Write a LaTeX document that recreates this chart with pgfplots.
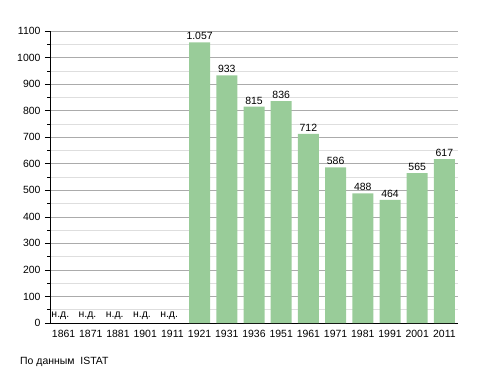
\documentclass[border=0pt]{standalone}
\usepackage{pgfplots}
\pgfplotsset{compat=1.18}
\usepackage{fontspec}
\setmainfont{Liberation Sans}
\definecolor{bargreen}{HTML}{99CC99}
\pgfplotstableread{
x y label
5 1057 1.057
6 933 933
7 815 815
8 836 836
9 712 712
10 586 586
11 488 488
12 464 464
13 565 565
14 617 617
}\popdata
\begin{document}
\begin{tikzpicture}
\useasboundingbox (-50bp,-50bp) rectangle (438bp,323bp);
\begin{axis}[
  scale only axis, width=408bp, height=292bp,
  xmin=-0.5, xmax=14.5, ymin=0, ymax=1100,
  axis x line*=bottom, axis y line*=left,
  axis line style={black, line width=0.8pt, -},
  xtick={0,...,14},
  xticklabels={1861,1871,1881,1901,1911,1921,1931,1936,1951,1961,1971,1981,1991,2001,2011},
  x tick style={draw=none},
  ytick={0,100,...,1100},
  minor ytick={50,150,...,1050},
  ymajorgrids, yminorgrids,
  major grid style={draw=black!33, line width=0.6pt},
  minor grid style={draw=black!13, line width=0.6pt},
  tick align=outside,
  major tick length=5bp, minor tick length=2.5bp,
  y tick style={black, line width=0.6pt},
  tick label style={font=\fontsize{10.5}{12}\selectfont},
  /pgf/number format/assume math mode=true,
  yticklabel style={/pgf/number format/set thousands separator={}, xshift=-1bp},
  xticklabel style={yshift=1bp},
  clip=false,
]
\addplot[ybar, bar width=21bp, fill=bargreen, draw=none,
  nodes near coords, point meta=explicit symbolic,
  every node near coord/.append style={font=\fontsize{10.5}{12}\selectfont, black, yshift=-1bp}]
  table[x=x, y=y, meta=label] {\popdata};
\node[anchor=south, font=\fontsize{10.5}{12}\selectfont, inner sep=0pt, yshift=3.5bp] at (axis cs:-0.12,0) {н.д.};
\node[anchor=south, font=\fontsize{10.5}{12}\selectfont, inner sep=0pt, yshift=3.5bp] at (axis cs:0.88,0) {н.д.};
\node[anchor=south, font=\fontsize{10.5}{12}\selectfont, inner sep=0pt, yshift=3.5bp] at (axis cs:1.88,0) {н.д.};
\node[anchor=south, font=\fontsize{10.5}{12}\selectfont, inner sep=0pt, yshift=3.5bp] at (axis cs:2.88,0) {н.д.};
\node[anchor=south, font=\fontsize{10.5}{12}\selectfont, inner sep=0pt, yshift=3.5bp] at (axis cs:3.88,0) {н.д.};
\end{axis}
\node[anchor=west, font=\fontsize{10.5}{12}\selectfont, inner sep=0pt] at (-30bp,-39bp) {По данным\ \ ISTAT};
\end{tikzpicture}
\end{document}
